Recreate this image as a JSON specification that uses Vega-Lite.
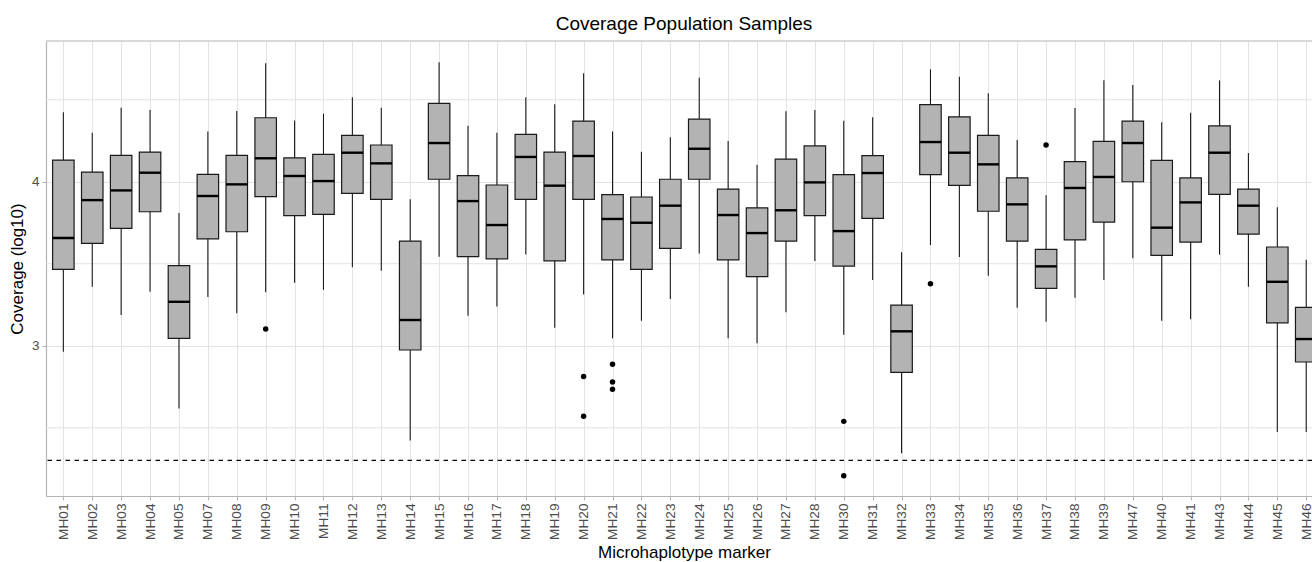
{
  "$schema": "https://vega.github.io/schema/vega-lite/v6.json",
  "width": 1266,
  "height": 455,
  "autosize": {"type": "none"},
  "padding": {"left": 46, "top": 41, "right": 0, "bottom": 66},
  "background": "white",
  "config": {
    "font": "Liberation Sans",
    "view": {"stroke": null}
  },
  "title": {
    "text": "Coverage Population Samples",
    "fontSize": 19,
    "fontWeight": "normal",
    "color": "black",
    "anchor": "middle",
    "dx": 5,
    "offset": 6
  },
  "datasets": {
    "stats": [
      {"marker": "MH01", "lower": 2.963, "q1": 3.466, "median": 3.657, "q3": 4.132, "upper": 4.423},
      {"marker": "MH02", "lower": 3.360, "q1": 3.624, "median": 3.888, "q3": 4.059, "upper": 4.299},
      {"marker": "MH03", "lower": 3.187, "q1": 3.716, "median": 3.947, "q3": 4.161, "upper": 4.451},
      {"marker": "MH04", "lower": 3.330, "q1": 3.817, "median": 4.055, "q3": 4.181, "upper": 4.437},
      {"marker": "MH05", "lower": 2.618, "q1": 3.045, "median": 3.268, "q3": 3.488, "upper": 3.809},
      {"marker": "MH07", "lower": 3.297, "q1": 3.652, "median": 3.913, "q3": 4.045, "upper": 4.307},
      {"marker": "MH08", "lower": 3.198, "q1": 3.695, "median": 3.984, "q3": 4.161, "upper": 4.431},
      {"marker": "MH09", "lower": 3.326, "q1": 3.909, "median": 4.143, "q3": 4.390, "upper": 4.722},
      {"marker": "MH10", "lower": 3.384, "q1": 3.793, "median": 4.035, "q3": 4.146, "upper": 4.374},
      {"marker": "MH11", "lower": 3.341, "q1": 3.801, "median": 4.004, "q3": 4.167, "upper": 4.415},
      {"marker": "MH12", "lower": 3.478, "q1": 3.929, "median": 4.177, "q3": 4.283, "upper": 4.515},
      {"marker": "MH13", "lower": 3.457, "q1": 3.893, "median": 4.112, "q3": 4.224, "upper": 4.451},
      {"marker": "MH14", "lower": 2.423, "q1": 2.974, "median": 3.157, "q3": 3.638, "upper": 3.893},
      {"marker": "MH15", "lower": 3.543, "q1": 4.015, "median": 4.236, "q3": 4.478, "upper": 4.728},
      {"marker": "MH16", "lower": 3.183, "q1": 3.543, "median": 3.882, "q3": 4.037, "upper": 4.341},
      {"marker": "MH17", "lower": 3.240, "q1": 3.530, "median": 3.736, "q3": 3.980, "upper": 4.299},
      {"marker": "MH18", "lower": 3.557, "q1": 3.893, "median": 4.151, "q3": 4.289, "upper": 4.515},
      {"marker": "MH19", "lower": 3.110, "q1": 3.518, "median": 3.976, "q3": 4.181, "upper": 4.472},
      {"marker": "MH20", "lower": 3.313, "q1": 3.893, "median": 4.157, "q3": 4.370, "upper": 4.661},
      {"marker": "MH21", "lower": 3.045, "q1": 3.523, "median": 3.773, "q3": 3.921, "upper": 4.307},
      {"marker": "MH22", "lower": 3.152, "q1": 3.466, "median": 3.750, "q3": 3.907, "upper": 4.183},
      {"marker": "MH23", "lower": 3.285, "q1": 3.594, "median": 3.854, "q3": 4.015, "upper": 4.271},
      {"marker": "MH24", "lower": 3.563, "q1": 4.015, "median": 4.201, "q3": 4.382, "upper": 4.634},
      {"marker": "MH25", "lower": 3.045, "q1": 3.523, "median": 3.797, "q3": 3.955, "upper": 4.248},
      {"marker": "MH26", "lower": 3.015, "q1": 3.421, "median": 3.687, "q3": 3.841, "upper": 4.104},
      {"marker": "MH27", "lower": 3.204, "q1": 3.638, "median": 3.826, "q3": 4.138, "upper": 4.429},
      {"marker": "MH28", "lower": 3.516, "q1": 3.793, "median": 3.996, "q3": 4.218, "upper": 4.437},
      {"marker": "MH30", "lower": 3.067, "q1": 3.486, "median": 3.699, "q3": 4.043, "upper": 4.372},
      {"marker": "MH31", "lower": 3.401, "q1": 3.777, "median": 4.053, "q3": 4.159, "upper": 4.393},
      {"marker": "MH32", "lower": 2.344, "q1": 2.838, "median": 3.088, "q3": 3.248, "upper": 3.570},
      {"marker": "MH33", "lower": 3.614, "q1": 4.043, "median": 4.242, "q3": 4.470, "upper": 4.685},
      {"marker": "MH34", "lower": 3.541, "q1": 3.978, "median": 4.177, "q3": 4.396, "upper": 4.640},
      {"marker": "MH35", "lower": 3.427, "q1": 3.820, "median": 4.106, "q3": 4.283, "upper": 4.539},
      {"marker": "MH36", "lower": 3.232, "q1": 3.638, "median": 3.862, "q3": 4.024, "upper": 4.254},
      {"marker": "MH37", "lower": 3.146, "q1": 3.350, "median": 3.484, "q3": 3.588, "upper": 3.917},
      {"marker": "MH38", "lower": 3.293, "q1": 3.645, "median": 3.962, "q3": 4.122, "upper": 4.449},
      {"marker": "MH39", "lower": 3.401, "q1": 3.754, "median": 4.029, "q3": 4.246, "upper": 4.618},
      {"marker": "MH47", "lower": 3.533, "q1": 4.000, "median": 4.236, "q3": 4.370, "upper": 4.590},
      {"marker": "MH40", "lower": 3.152, "q1": 3.551, "median": 3.720, "q3": 4.130, "upper": 4.362},
      {"marker": "MH41", "lower": 3.161, "q1": 3.632, "median": 3.874, "q3": 4.023, "upper": 4.421},
      {"marker": "MH43", "lower": 3.555, "q1": 3.923, "median": 4.177, "q3": 4.340, "upper": 4.618},
      {"marker": "MH44", "lower": 3.360, "q1": 3.681, "median": 3.854, "q3": 3.955, "upper": 4.175},
      {"marker": "MH45", "lower": 2.474, "q1": 3.140, "median": 3.390, "q3": 3.602, "upper": 3.844},
      {"marker": "MH46", "lower": 2.474, "q1": 2.901, "median": 3.041, "q3": 3.234, "upper": 3.524}
    ],
    "outliers": [
      {"marker": "MH09", "value": 3.102},
      {"marker": "MH20", "value": 2.813},
      {"marker": "MH20", "value": 2.570},
      {"marker": "MH21", "value": 2.887},
      {"marker": "MH21", "value": 2.779},
      {"marker": "MH21", "value": 2.735},
      {"marker": "MH30", "value": 2.539},
      {"marker": "MH30", "value": 2.207},
      {"marker": "MH33", "value": 3.378},
      {"marker": "MH37", "value": 4.224}
    ],
    "minorGrid": [
      {"value": 2.5},
      {"value": 3.5},
      {"value": 4.5}
    ],
    "threshold": [
      {"value": 2.301}
    ],
    "panelTop": [
      {"value": 4.858}
    ]
  },
  "layer": [
    {
      "data": {"name": "minorGrid"},
      "mark": {"type": "rule", "color": "#e3e3e3", "strokeWidth": 1},
      "encoding": {
        "y": {
          "field": "value",
          "type": "quantitative",
          "scale": {"domain": [2.084, 4.858], "nice": false, "zero": false},
          "title": "Coverage (log10)",
          "axis": {
            "values": [3, 4],
            "format": ".0f",
            "labelFontSize": 13.5,
            "labelColor": "#4d4d4d",
            "labelPadding": 3,
            "tickColor": "#b3b3b3",
            "tickSize": 4,
            "domainColor": "#b3b3b3",
            "domainWidth": 1.2,
            "grid": true,
            "gridColor": "#e3e3e3",
            "gridWidth": 1,
            "titleFontSize": 17,
            "titleFontWeight": "normal",
            "titleColor": "black",
            "titlePadding": 5
          }
        }
      }
    },
    {
      "data": {"name": "stats"},
      "mark": {"type": "rule", "color": "#1a1a1a", "strokeWidth": 1.1},
      "encoding": {
        "x": {
          "field": "marker",
          "type": "nominal",
          "sort": null,
          "scale": {"type": "point", "padding": 0.4, "align": 0.75},
          "title": "Microhaplotype marker",
          "axis": {
            "labelAngle": -90,
            "labelFontSize": 13.7,
            "labelColor": "#4d4d4d",
            "labelPadding": 3,
            "tickColor": "#b3b3b3",
            "tickSize": 4,
            "domainColor": "#b3b3b3",
            "domainWidth": 1.2,
            "grid": true,
            "gridColor": "#e3e3e3",
            "gridWidth": 1,
            "titleFontSize": 17,
            "titleFontWeight": "normal",
            "titleColor": "black",
            "titlePadding": 5,
            "titleX": 638
          }
        },
        "y": {"field": "lower", "type": "quantitative"},
        "y2": {"field": "upper"}
      }
    },
    {
      "data": {"name": "stats"},
      "mark": {"type": "bar", "width": 21.5, "fill": "#b3b3b3", "stroke": "#1a1a1a", "strokeWidth": 1.2},
      "encoding": {
        "x": {"field": "marker", "type": "nominal", "sort": null},
        "y": {"field": "q1", "type": "quantitative"},
        "y2": {"field": "q3"}
      }
    },
    {
      "data": {"name": "stats"},
      "mark": {"type": "tick", "size": 21.5, "thickness": 2.4, "color": "black", "opacity": 1},
      "encoding": {
        "x": {"field": "marker", "type": "nominal", "sort": null},
        "y": {"field": "median", "type": "quantitative"}
      }
    },
    {
      "data": {"name": "outliers"},
      "mark": {"type": "circle", "size": 30, "color": "black", "opacity": 1},
      "encoding": {
        "x": {"field": "marker", "type": "nominal", "sort": null},
        "y": {"field": "value", "type": "quantitative"}
      }
    },
    {
      "data": {"name": "threshold"},
      "mark": {"type": "rule", "color": "black", "strokeWidth": 1.3, "strokeDash": [4.5, 4.5]},
      "encoding": {
        "y": {"field": "value", "type": "quantitative"}
      }
    },
    {
      "data": {"name": "panelTop"},
      "mark": {"type": "rule", "color": "#b3b3b3", "strokeWidth": 1.2},
      "encoding": {
        "y": {"field": "value", "type": "quantitative"}
      }
    }
  ]
}
